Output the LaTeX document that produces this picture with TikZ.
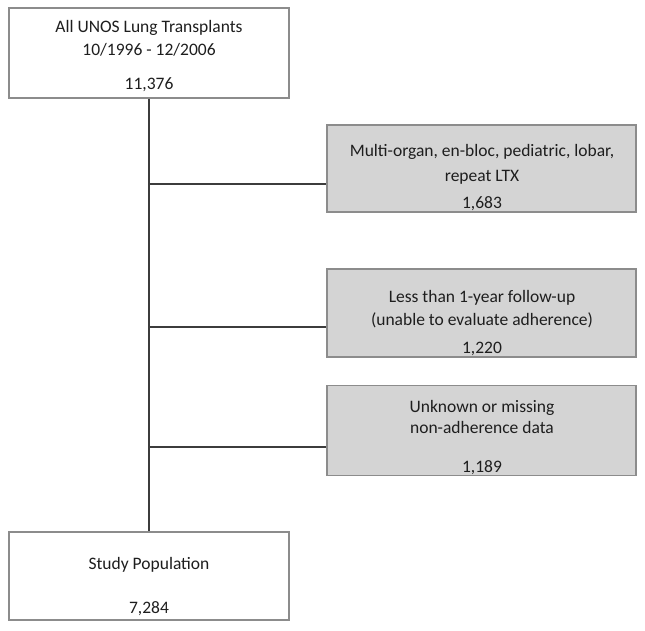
\documentclass[tikz,border=0pt]{standalone}
\usepackage{fontspec}
\setmainfont{Carlito}
\definecolor{BoxEdge}{HTML}{8C8C8C}
\definecolor{ExclFill}{HTML}{D4D4D4}
\definecolor{LineInk}{HTML}{3C3C3C}
\definecolor{TextInk}{HTML}{1E1E1E}
\tikzset{
  mainbox/.style={draw=BoxEdge, line width=1.3pt, fill=white, inner sep=0pt},
  exclbox/.style={draw=BoxEdge, line width=1.3pt, fill=ExclFill, inner sep=0pt},
  boxtext/.style={font=\fontsize{17.5}{20}\selectfont, text=TextInk, anchor=base, inner sep=0pt},
  trunk/.style={draw=LineInk, line width=1.3pt},
}
\begin{document}
\begin{tikzpicture}[x=1pt, y=-1pt]
    \useasboundingbox (0,0) rectangle (645,631);
    % boxes
    \node[mainbox, minimum width=280pt, minimum height=90pt] (all) at (149, 53) {};
    \node[exclbox, minimum width=309pt, minimum height=87pt] (multi) at (481.5, 168.5) {};
    \node[exclbox, minimum width=309pt, minimum height=88pt] (follow) at (481.5, 313) {};
    \node[exclbox, minimum width=309pt, minimum height=90pt] (missing) at (481.5, 430.5) {};
    \node[mainbox, minimum width=280pt, minimum height=88pt] (study) at (149, 576) {};
    % texts
    \node[boxtext] (allA) at (149, 33) {All UNOS Lung Transplants};
    \node[boxtext] (allB) at (149, 56) {10/1996 - 12/2006};
    \node[boxtext] (allN) at (149, 90) {11,376};
    \node[boxtext] (multiA) at (482, 157) {Multi-organ, en-bloc, pediatric, lobar,};
    \node[boxtext] (multiB) at (482, 182) {repeat LTX};
    \node[boxtext] (multiN) at (482, 208) {1,683};
    \node[boxtext] (followA) at (482, 302) {Less than 1-year follow-up};
    \node[boxtext] (followB) at (482, 325) {(unable to evaluate adherence)};
    \node[boxtext] (followN) at (482, 353) {1,220};
    \node[boxtext] (missingA) at (482, 412) {Unknown or missing};
    \node[boxtext] (missingB) at (482, 433) {non-adherence data};
    \node[boxtext] (missingN) at (482, 472) {1,189};
    \node[boxtext] (studyA) at (149, 569) {Study Population};
    \node[boxtext] (studyN) at (149, 613) {7,284};
    % connectors
    \coordinate (j1) at (149, 184);
    \coordinate (j2) at (149, 327);
    \coordinate (j3) at (149, 447);
    \draw[trunk] (all.south) -- (study.north);
    \draw[trunk] (j1) -- (j1 -| multi.west);
    \draw[trunk] (j2) -- (j2 -| follow.west);
    \draw[trunk] (j3) -- (j3 -| missing.west);
\end{tikzpicture}
\end{document}
